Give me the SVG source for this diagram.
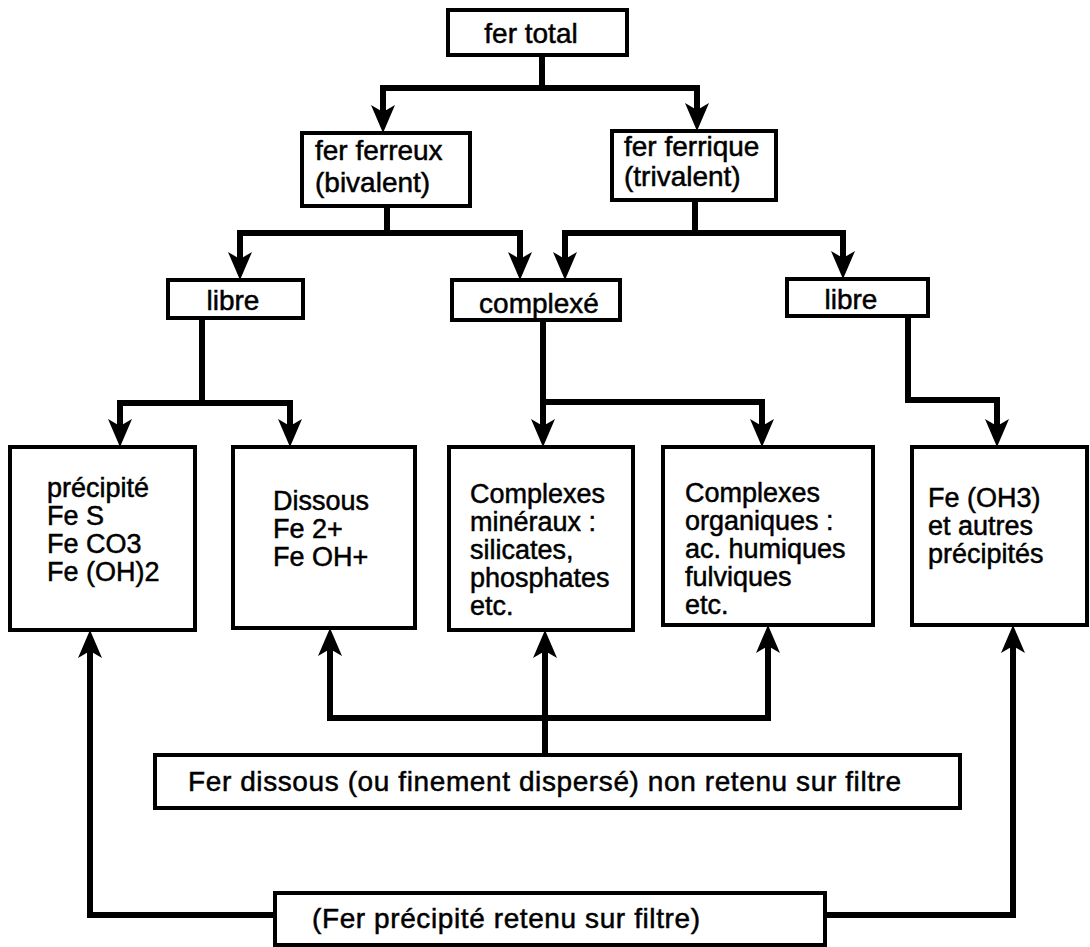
<svg xmlns="http://www.w3.org/2000/svg" width="1090" height="947" viewBox="0 0 1090 947">
<style>
.box{fill:#fff;stroke:#000;stroke-width:4}
.t{font-family:"Liberation Sans",Arial,sans-serif;font-size:28px;fill:#000;stroke:#000;stroke-width:0.5px}
.m{font-size:27px}
.w{letter-spacing:0.6px}
.c{text-anchor:middle}
.ln{fill:none;stroke:#000;stroke-width:6;stroke-linejoin:miter;stroke-linecap:square}
.arr{marker-end:url(#ah)}
</style>
<defs>
<marker id="ah" markerUnits="userSpaceOnUse" markerWidth="32" markerHeight="28" viewBox="0 -14 32 28" refX="17" refY="0" orient="auto">
<path d="M0,-12 L28,0 L0,12 L7,0 Z" fill="#000"/>
</marker>
</defs>
<rect width="1090" height="947" fill="#fff"/>
<g id="connectors">
<path class="ln arr" d="M542,55 V88 H383 V122"/>
<path class="ln arr" d="M542,88 H697 V120"/>
<path class="ln arr" d="M387,206 V233 H240 V269"/>
<path class="ln arr" d="M387,233 H520 V269"/>
<path class="ln arr" d="M695,200 V233 H565 V269"/>
<path class="ln arr" d="M695,233 H843 V268"/>
<path class="ln arr" d="M202,318 V403 H120 V436"/>
<path class="ln arr" d="M202,403 H290 V436"/>
<path class="ln arr" d="M543,320 V436"/>
<path class="ln arr" d="M543,402 H762 V436"/>
<path class="ln arr" d="M908,316 V400 H997 V436"/>
<path class="ln arr" d="M545,755 V718 H330 V639"/>
<path class="ln arr" d="M545,718 V641"/>
<path class="ln arr" d="M545,718 H768 V636"/>
<path class="ln arr" d="M275,915 H90 V641"/>
<path class="ln arr" d="M825,915 H1013 V636"/>
</g>
<g id="n-total"><rect class="box" x="448" y="10" width="179" height="45"/><text class="t c" x="531" y="43">fer total</text></g>
<g id="n-ferreux"><rect class="box" x="302" y="133" width="168" height="73"/><text class="t" x="315" y="160">fer ferreux</text><text class="t" x="315" y="192">(bivalent)</text></g>
<g id="n-ferrique"><rect class="box" x="612" y="131" width="164" height="69"/><text class="t" x="624" y="156">fer ferrique</text><text class="t" x="624" y="186">(trivalent)</text></g>
<g id="n-libre1"><rect class="box" x="168" y="280" width="135" height="38"/><text class="t c" x="233" y="310">libre</text></g>
<g id="n-complexe"><rect class="box" x="452" y="280" width="168" height="40"/><text class="t c" x="539" y="313">complexé</text></g>
<g id="n-libre2"><rect class="box" x="787" y="279" width="141" height="37"/><text class="t c" x="851" y="309">libre</text></g>
<g id="n-precipite"><rect class="box" x="10" y="447" width="185" height="183"/><text class="t m" x="47" y="497">précipité</text><text class="t m" x="47" y="525">Fe S</text><text class="t m" x="47" y="553">Fe CO3</text><text class="t m" x="47" y="581">Fe (OH)2</text></g>
<g id="n-dissous"><rect class="box" x="233" y="447" width="182" height="181"/><text class="t m" x="273" y="510">Dissous</text><text class="t m" x="273" y="538">Fe 2+</text><text class="t m" x="273" y="566">Fe OH+</text></g>
<g id="n-mineraux"><rect class="box" x="449" y="447" width="184" height="183"/><text class="t m" x="470" y="503">Complexes</text><text class="t m" x="470" y="531">minéraux :</text><text class="t m" x="470" y="559">silicates,</text><text class="t m" x="470" y="587">phosphates</text><text class="t m" x="470" y="615">etc.</text></g>
<g id="n-organiques"><rect class="box" x="663" y="447" width="210" height="178"/><text class="t m" x="685" y="502">Complexes</text><text class="t m" x="685" y="530">organiques :</text><text class="t m" x="685" y="558">ac. humiques</text><text class="t m" x="685" y="586">fulviques</text><text class="t m" x="685" y="614">etc.</text></g>
<g id="n-oh3"><rect class="box" x="912" y="447" width="175" height="178"/><text class="t m" x="928" y="507">Fe (OH3)</text><text class="t m" x="928" y="535">et autres</text><text class="t m" x="928" y="563">précipités</text></g>
<g id="n-nonretenu"><rect class="box" x="155" y="755" width="805" height="53"/><text class="t w" x="188" y="791">Fer dissous (ou finement dispersé) non retenu sur filtre</text></g>
<g id="n-retenu"><rect class="box" x="275" y="893" width="550" height="52"/><text class="t w" x="312" y="928">(Fer précipité retenu sur filtre)</text></g>
</svg>
